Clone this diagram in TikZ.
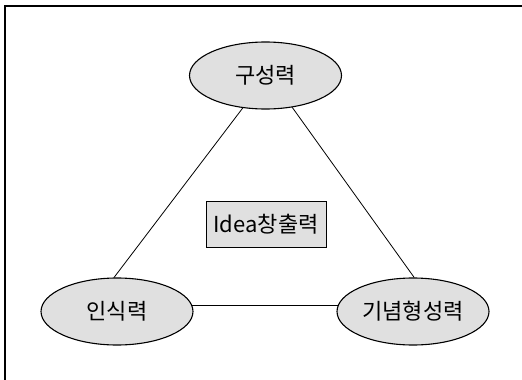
\documentclass[tikz,border=0pt]{standalone}
\usepackage{fontspec}
\setmainfont{Noto Sans CJK KR}
\usetikzlibrary{shapes.geometric}
\tikzset{
  ell/.style={ellipse, draw=black, line width=1.1pt, fill=black!12, minimum width=152pt, minimum height=67pt, inner sep=0pt, font=\fontsize{22}{26}\selectfont},
  cbox/.style={rectangle, draw=black, line width=1pt, fill=black!12, minimum width=120pt, minimum height=46pt, inner sep=0pt, font=\fontsize{22}{26}\selectfont},
  link/.style={draw=black, line width=0.8pt}
}
\begin{document}
\begin{tikzpicture}[x=1pt,y=-1pt]
\useasboundingbox (0,0) rectangle (522,380);
\fill[white] (0,0) rectangle (522,380);
\draw[line width=1.3pt] (5,390) -- (5,6) -- (530,6);
\node[ell] (top) at (265.5,75.5) {구성력};
\node[ell] (left) at (117,311.5) {인식력};
\node[ell] (right) at (413,311.5) {기념형성력};
\node[cbox] (mid) at (266,224) {Idea창출력};
\draw[link] (top.235) -- (left.95);
\draw[link] (top.310) -- (right.88);
\draw[link] (left.5) -- (right.175);
\end{tikzpicture}
\end{document}
